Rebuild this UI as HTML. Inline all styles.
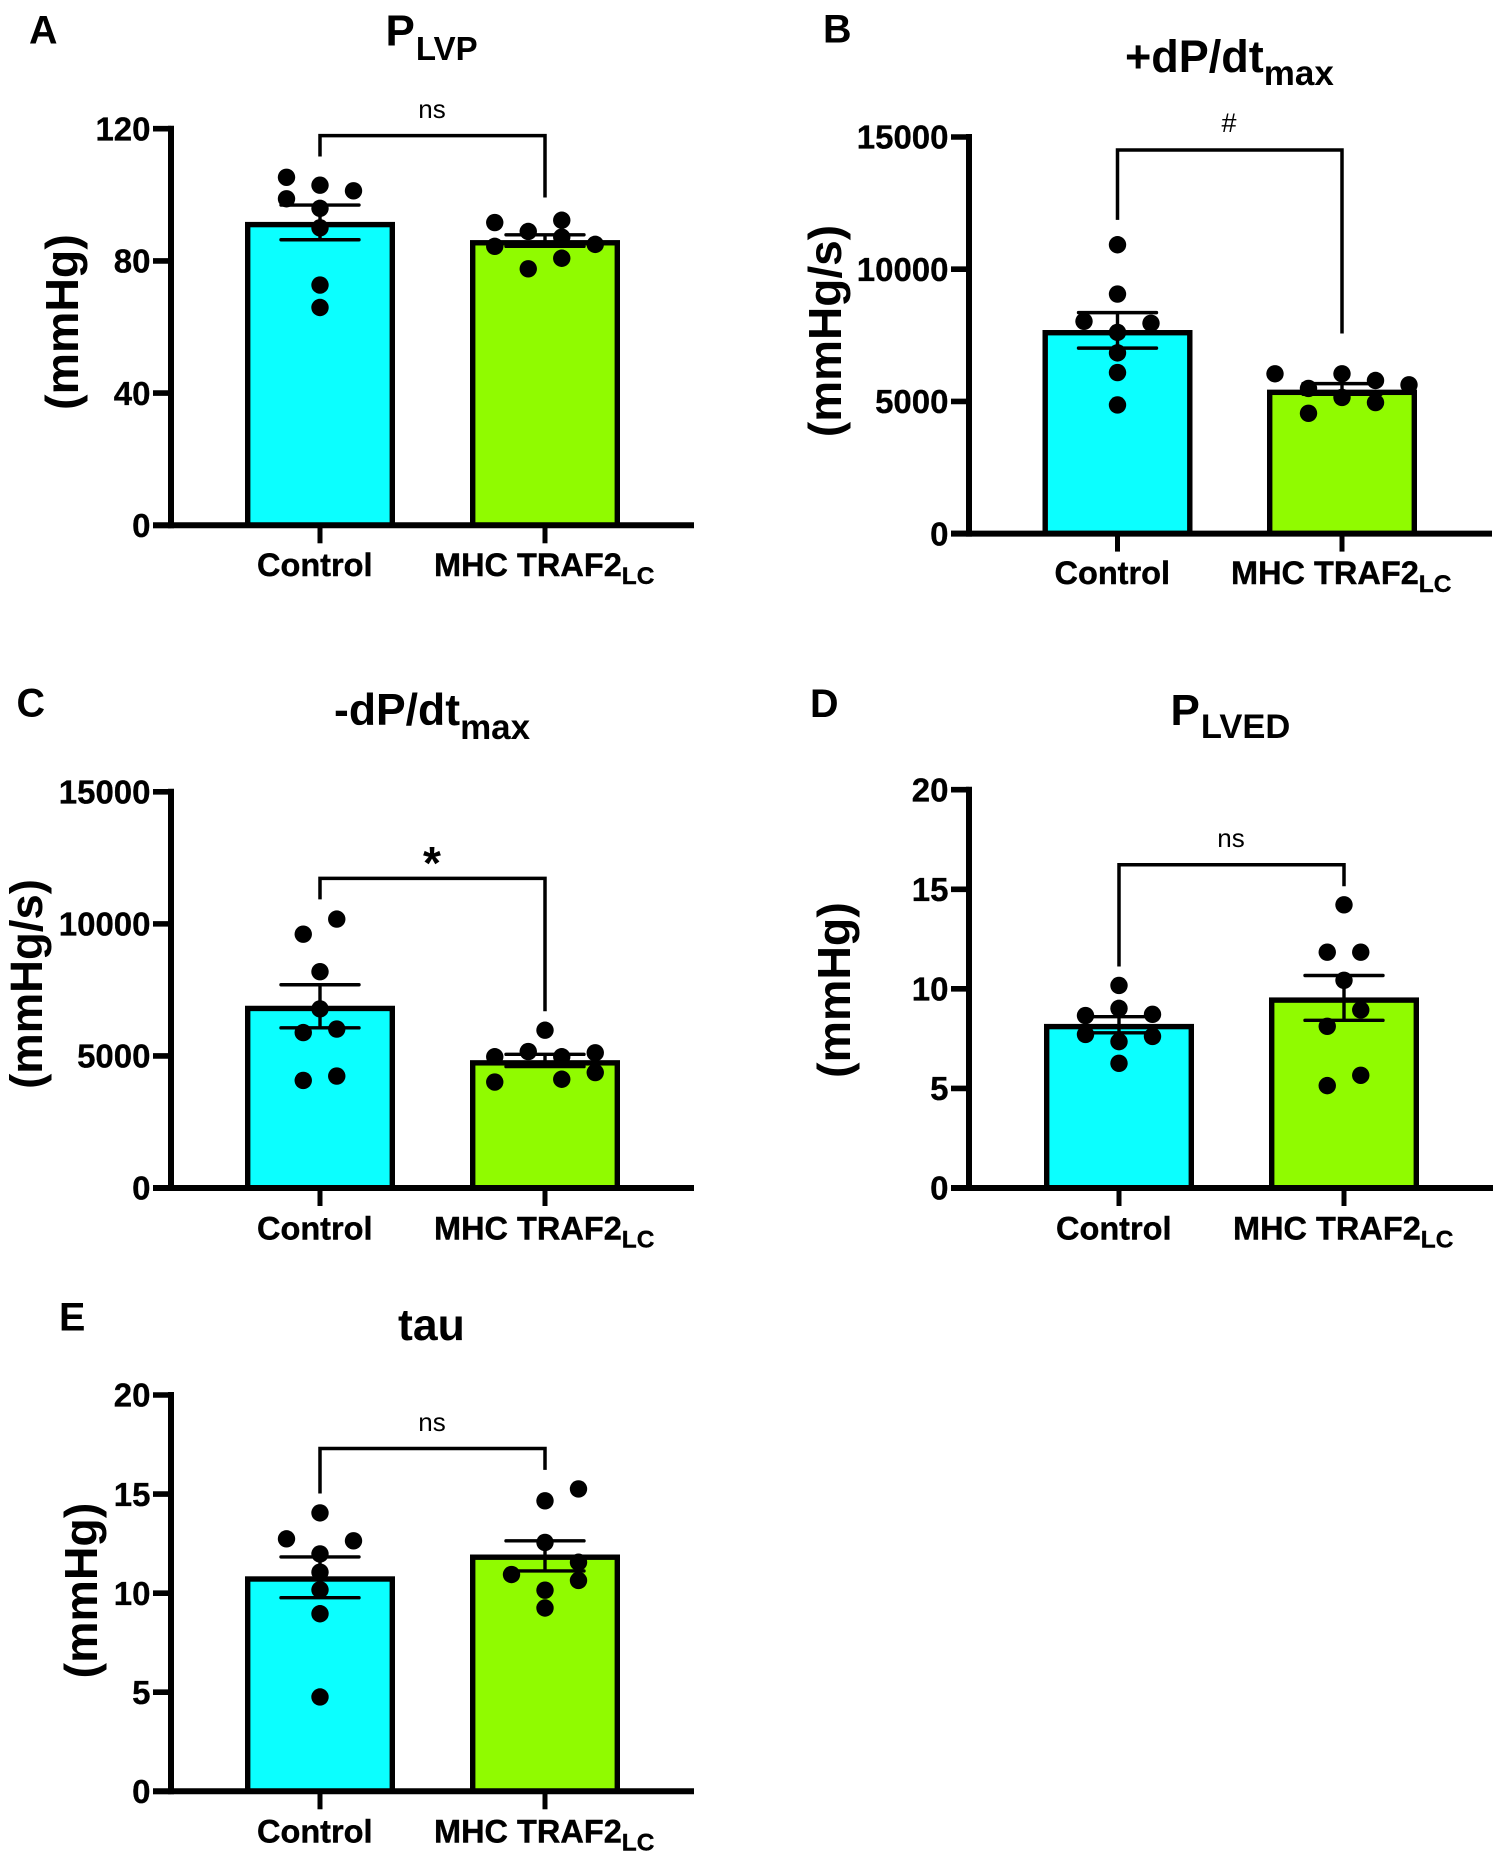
<!DOCTYPE html>
<html lang="en">
<head>
<meta charset="utf-8">
<title>Hemodynamic bar charts</title>
<style>
html,body{margin:0;padding:0;background:#fff;}
svg{display:block;}
text{font-family:"Liberation Sans",Arial,sans-serif;fill:#000;}
.b{font-weight:700;}
</style>
</head>
<body>
<svg id="figure" xmlns="http://www.w3.org/2000/svg" width="1500" height="1859" viewBox="0 0 1500 1859">
  <rect x="0" y="0" width="1500" height="1859" fill="#fff"/>

  <g id="panel-a">
    <text class="b" x="29" y="43.5" font-size="39.5">A</text>
    <text class="b" x="385.5" y="45.5" font-size="44">P<tspan font-size="33" dy="14.5" dx="1">LVP</tspan></text>
    <text class="b" transform="translate(78,322) rotate(-90)" text-anchor="middle" font-size="46.5">(mmHg)</text>
    <text x="432" y="118" text-anchor="middle" font-size="26">ns</text>
  </g>

  <g id="panel-b">
    <text class="b" x="823" y="42.7" font-size="39.5">B</text>
    <text class="b" x="1125" y="72" font-size="45">+dP/dt<tspan font-size="35" dy="13">max</tspan></text>
    <text class="b" transform="translate(841,331) rotate(-90)" text-anchor="middle" font-size="46">(mmHg/s)</text>
    <text x="1229" y="132" text-anchor="middle" font-size="27">#</text>
  </g>

  <g id="panel-c">
    <text class="b" x="16.5" y="716.5" font-size="39.5">C</text>
    <text class="b" x="334" y="725" font-size="44.5">-dP/dt<tspan font-size="35" dy="14">max</tspan></text>
    <text class="b" transform="translate(42,984) rotate(-90)" text-anchor="middle" font-size="45.5">(mmHg/s)</text>
    <text class="b" x="432" y="879" text-anchor="middle" font-size="46">*</text>
  </g>

  <g id="panel-d">
    <text class="b" x="810" y="717" font-size="39.5">D</text>
    <text class="b" x="1170.5" y="725" font-size="44">P<tspan font-size="34.5" dy="13" dx="1">LVED</tspan></text>
    <text class="b" transform="translate(850,990) rotate(-90)" text-anchor="middle" font-size="46.5">(mmHg)</text>
    <text x="1231" y="847" text-anchor="middle" font-size="26">ns</text>
  </g>

  <g id="panel-e">
    <text class="b" x="59" y="1330.7" font-size="39.5">E</text>
    <text class="b" x="398" y="1340" font-size="44.5">tau</text>
    <text class="b" transform="translate(97,1590.5) rotate(-90)" text-anchor="middle" font-size="46.5">(mmHg)</text>
    <text x="432" y="1431" text-anchor="middle" font-size="26">ns</text>
  </g>
</svg>

<script>
// Shared categories
const categories = ["Control", "MHC TRAF2"];
const categorySubs = ["", "LC"];
const categoryKeys = ["control", "traf2"];
const barColors = ["#0bffff", "#90fb00"];

// Panel A: P LVP (mmHg)
const aTicks = [0, 40, 80, 120];
const aMeans = [91.8, 86.3];
const aErrHigh = [96.9, 87.9];
const aErrLow = [86.4, 84.4];
const aControl = [105.3, 102.9, 101.2, 98.8, 95.9, 90, 72.7, 65.9];
const aControlSlots = [-2, 0, 2, -2, 0, 0, 0, 0];
const aTraf2 = [91.6, 92.3, 88.9, 87.2, 84.4, 85, 80.8, 77.6];
const aTraf2Slots = [-3, 1, -1, 1, -3, 3, 1, -1];
const aBracket = [117.9, 111.6, 99.2];

// Panel B: +dP/dt max (mmHg/s)
const bTicks = [0, 5000, 10000, 15000];
const bMeans = [7700, 5445];
const bErrHigh = [8358, 5672];
const bErrLow = [7015, 5270];
const bControl = [10925, 9060, 8030, 7955, 7610, 6835, 6090, 4865];
const bControlSlots = [0, 0, -2, 2, 0, 0, 0, 0];
const bTraf2 = [6045, 6045, 5790, 5627, 5490, 5150, 4955, 4550];
const bTraf2Slots = [-4, 0, 2, 4, -2, 0, 2, -2];
const bBracket = [14507, 11866, 7567];

// Panel C: -dP/dt max (mmHg/s)
const cTicks = [0, 5000, 10000, 15000];
const cMeans = [6900, 4840];
const cErrHigh = [7695, 5060];
const cErrLow = [6063, 4596];
const cControl = [10180, 9610, 8189, 6781, 6018, 5883, 4237, 4072];
const cControlSlots = [1, -1, 0, 0, 1, -1, 1, -1];
const cTraf2 = [5973, 5165, 5120, 4970, 4970, 4371, 4117, 4012];
const cTraf2Slots = [0, -1, 3, -3, 1, 3, 1, -3];
const cBracket = [11722, 10928, 6692];

// Panel D: P LVED (mmHg)
const dTicks = [0, 5, 10, 15, 20];
const dMeans = [8.24, 9.57];
const dErrHigh = [8.6, 10.67];
const dErrLow = [7.79, 8.42];
const dControl = [10.17, 9.02, 8.66, 8.72, 7.71, 7.61, 7.35, 6.26];
const dControlSlots = [0, 0, -2, 2, -2, 2, 0, 0];
const dTraf2 = [14.22, 11.84, 11.84, 10.43, 8.94, 8.12, 5.66, 5.14];
const dTraf2Slots = [0, -1, 1, 0, 1, -1, 1, -1];
const dBracket = [16.23, 11.12, 15.15];

// Panel E: tau (mmHg)
const eTicks = [0, 5, 10, 15, 20];
const eMeans = [10.85, 11.95];
const eErrHigh = [11.83, 12.64];
const eErrLow = [9.77, 11.12];
const eControl = [14.05, 12.74, 12.64, 11.98, 11.06, 10.17, 8.96, 4.76];
const eControlSlots = [0, -2, 2, 0, 0, 0, 0, 0];
const eTraf2 = [15.26, 14.66, 12.56, 11.56, 10.94, 10.64, 10.15, 9.25];
const eTraf2Slots = [2, 0, 0, 2, -2, 2, 0, 0];
const eBracket = [17.3, 15.03, 16.22];

const NS = "http://www.w3.org/2000/svg";

function make(parent, tag, props) {
  const node = document.createElementNS(NS, tag);
  for (const k in props) node.setAttribute(k, props[k]);
  parent.appendChild(node);
  return node;
}

function drawPanel(cfg) {
  const root = document.getElementById(cfg.id);
  const plot = make(root, "g", {});
  
  

  const yMax = cfg.ticks[cfg.ticks.length - 1];
  const yScale = function (v) { return cfg.y0 - (v / yMax) * (cfg.y0 - cfg.yTop); };
  const barW = 150, sw = 5.4, capHalf = 39, slotPx = 16.75, dotR = 8.7;

  // bars
  categories.forEach(function (cat, i) {
    const cx = cfg.centers[i];
    const bar = make(plot, "rect", {
      x: cx - barW / 2 + sw / 2,
      y: yScale(cfg.means[i]) + sw / 2,
      width: barW - sw,
      height: Math.max(0, cfg.y0 - yScale(cfg.means[i]) - sw / 2),
      fill: barColors[i], stroke: "#000", "stroke-width": sw
    });
    
    
  });

  // axes
  const yAxis = make(plot, "line", {
    x1: cfg.axisX, x2: cfg.axisX, y1: cfg.yTop - 3, y2: cfg.y0 + 3,
    stroke: "#000", "stroke-width": 6
  });
  
  

  const xAxis = make(plot, "line", {
    x1: cfg.axisX - 18, x2: cfg.xEnd, y1: cfg.y0, y2: cfg.y0,
    stroke: "#000", "stroke-width": 6
  });
  
  

  // y ticks and labels
  cfg.ticks.forEach(function (t) {
    const yy = yScale(t);
    const tick = make(plot, "line", {
      x1: cfg.axisX - 18, x2: cfg.axisX, y1: yy, y2: yy,
      stroke: "#000", "stroke-width": 5.6
    });
    
    

    const label = make(plot, "text", {
      x: cfg.axisX - 20.5, y: yy + 11.7, "text-anchor": "end",
      "font-size": 33, "font-weight": 700, stroke: "#000", "stroke-width": 0.3
    });
    label.textContent = String(t);
    
    
  });

  // x ticks and category labels
  categories.forEach(function (cat, i) {
    const cx = cfg.centers[i];
    const tick = make(plot, "line", {
      x1: cx, x2: cx, y1: cfg.y0, y2: cfg.y0 + 18,
      stroke: "#000", "stroke-width": 5
    });
    
    

    const label = make(plot, "text", {
      x: cx + cfg.labelDx[i], y: cfg.catY, "text-anchor": "start",
      "font-size": 32.5, "font-weight": 700, stroke: "#000", "stroke-width": 0.4
    });
    label.textContent = cat;
    if (categorySubs[i]) {
      const sub = make(label, "tspan", { "font-size": 24.5, dy: 8 });
      sub.textContent = categorySubs[i];
    }
    
    
  });

  // dots
  cfg.series.forEach(function (vals, i) {
    vals.forEach(function (v, j) {
      const dot = make(plot, "circle", {
        cx: cfg.centers[i] + cfg.slots[i][j] * slotPx,
        cy: yScale(v), r: dotR, fill: "#000"
      });
      
      
    });
  });

  // error bars
  categories.forEach(function (cat, i) {
    const cx = cfg.centers[i];
    const hi = yScale(cfg.errHigh[i]), lo = yScale(cfg.errLow[i]);
    const err = make(plot, "path", {
      d: "M" + (cx - capHalf) + " " + hi + "H" + (cx + capHalf) +
         "M" + cx + " " + hi + "V" + lo +
         "M" + (cx - capHalf) + " " + lo + "H" + (cx + capHalf),
      fill: "none", stroke: "#000", "stroke-width": 3.4, "stroke-linecap": "round"
    });
    
    
  });

  // significance bracket: [top, left end, right end]
  const br = make(plot, "path", {
    d: "M" + cfg.centers[0] + " " + yScale(cfg.bracket[1]) +
       "V" + yScale(cfg.bracket[0]) +
       "H" + cfg.centers[1] +
       "V" + yScale(cfg.bracket[2]),
    fill: "none", stroke: "#000", "stroke-width": 3.5
  });
  
  
}

const colA = [320, 545];
const colB = [1117.5, 1342];
const colD = [1119, 1344];
const dxLeft = [-63, -111];

drawPanel({ id: "panel-a", ticks: aTicks, means: aMeans, errHigh: aErrHigh, errLow: aErrLow,
  series: [aControl, aTraf2], slots: [aControlSlots, aTraf2Slots], bracket: aBracket,
  axisX: 171, y0: 525.3, yTop: 128.7, xEnd: 694, centers: colA, catY: 576, labelDx: dxLeft });

drawPanel({ id: "panel-b", ticks: bTicks, means: bMeans, errHigh: bErrHigh, errLow: bErrLow,
  series: [bControl, bTraf2], slots: [bControlSlots, bTraf2Slots], bracket: bBracket,
  axisX: 969, y0: 533.6, yTop: 137, xEnd: 1492, centers: colB, catY: 584, labelDx: dxLeft });

drawPanel({ id: "panel-c", ticks: cTicks, means: cMeans, errHigh: cErrHigh, errLow: cErrLow,
  series: [cControl, cTraf2], slots: [cControlSlots, cTraf2Slots], bracket: cBracket,
  axisX: 171, y0: 1188, yTop: 791.8, xEnd: 694, centers: colA, catY: 1239.5, labelDx: dxLeft });

drawPanel({ id: "panel-d", ticks: dTicks, means: dMeans, errHigh: dErrHigh, errLow: dErrLow,
  series: [dControl, dTraf2], slots: [dControlSlots, dTraf2Slots], bracket: dBracket,
  axisX: 969, y0: 1188, yTop: 789.7, xEnd: 1493, centers: colD, catY: 1239.5, labelDx: dxLeft });

drawPanel({ id: "panel-e", ticks: eTicks, means: eMeans, errHigh: eErrHigh, errLow: eErrLow,
  series: [eControl, eTraf2], slots: [eControlSlots, eTraf2Slots], bracket: eBracket,
  axisX: 171, y0: 1791.3, yTop: 1395, xEnd: 694, centers: colA, catY: 1842.5, labelDx: dxLeft });
</script>
</body>
</html>
